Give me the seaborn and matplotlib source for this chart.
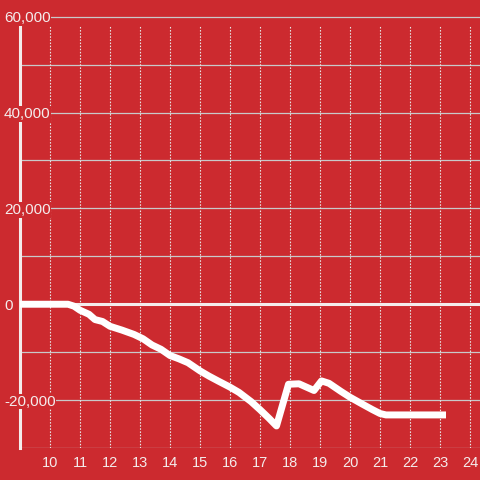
import matplotlib
matplotlib.use('Agg')
import matplotlib.pyplot as plt
import seaborn as sns
import pandas as pd

# hours of the day vs. cumulative balance
hours = [9.0, 10.6, 10.8, 11.0, 11.3, 11.5, 11.75, 12.0, 12.4, 12.8, 13.1, 13.4,
         13.7, 14.0, 14.3, 14.6, 15.0, 15.3, 15.6, 16.0, 16.3, 16.7, 17.0, 17.3,
         17.55, 17.95, 18.3, 18.8, 19.05, 19.3, 19.7, 20.0, 20.4, 20.75, 21.0,
         21.2, 23.2]
balance = [0, 0, -400, -1250, -2100, -3200, -3600, -4600, -5400, -6300, -7200,
           -8500, -9400, -10700, -11400, -12200, -13900, -15000, -16000, -17300,
           -18400, -20300, -22000, -23800, -25400, -16700, -16600, -18000, -16000,
           -16500, -18200, -19400, -20800, -22000, -22800, -23100, -23100]

x_ticks = list(range(10, 25))
y_ticks = [-20000, 0, 20000, 40000, 60000]
y_grid = list(range(-30000, 60001, 10000))

bg = '#cc2a2f'
fg = '#f4ecec'

sns.set_style('white', rc={'axes.facecolor': bg, 'figure.facecolor': bg})
plt.rcParams['font.family'] = ['Liberation Sans', 'DejaVu Sans']

df = pd.DataFrame({'hour': hours, 'balance': balance})

fig = plt.figure(figsize=(4.8, 4.8), dpi=100)
ax = fig.add_axes([20 / 480, 32 / 480, 460 / 480, 432 / 480])

ax.set_xlim(9, 9 + 460 / 30)
ax.set_ylim(-30000, 60000 * 1.0025)

# horizontal grid
for v in y_grid:
    if v == 0:
        continue
    ax.axhline(v, color='#c9c9c9', lw=0.9, zorder=1)
ax.axhline(0, color=fg, lw=2.2, zorder=1.5)

# vertical dotted grid
ax.vlines(x_ticks, -30000, 58333, colors='#e6e6e6', linestyles=(0, (1.4, 1.4)),
          lw=0.8, zorder=1)

sns.lineplot(data=df, x='hour', y='balance', ax=ax, color='white', lw=5,
             solid_capstyle='butt', solid_joinstyle='round', zorder=3)

for s in ['top', 'right', 'bottom']:
    ax.spines[s].set_visible(False)
ax.spines['left'].set_color(fg)
ax.spines['left'].set_linewidth(2.2)
ax.spines['left'].set_bounds(-30000, 58333)
ax.spines['left'].set_zorder(2)

ax.set_xticks(x_ticks)
ax.set_xticklabels([str(t) for t in x_ticks])
ax.set_yticks(y_ticks)
ax.set_yticklabels([f'{t:,}' for t in y_ticks])
ax.tick_params(axis='x', length=0, pad=6, colors=fg, labelsize=10.5)
ax.tick_params(axis='y', length=0, pad=0, colors=fg, labelsize=11)
for lbl in ax.get_yticklabels():
    lbl.set_horizontalalignment('left')
    lbl.set_x(-16 / 460)
    lbl.set_bbox(dict(facecolor=bg, edgecolor='none', pad=0.5))
    lbl.set_zorder(5)
ax.yaxis.set_zorder(5)

ax.set_xlabel('')
ax.set_ylabel('')

fig.savefig('out.png', dpi=100, facecolor=bg)
